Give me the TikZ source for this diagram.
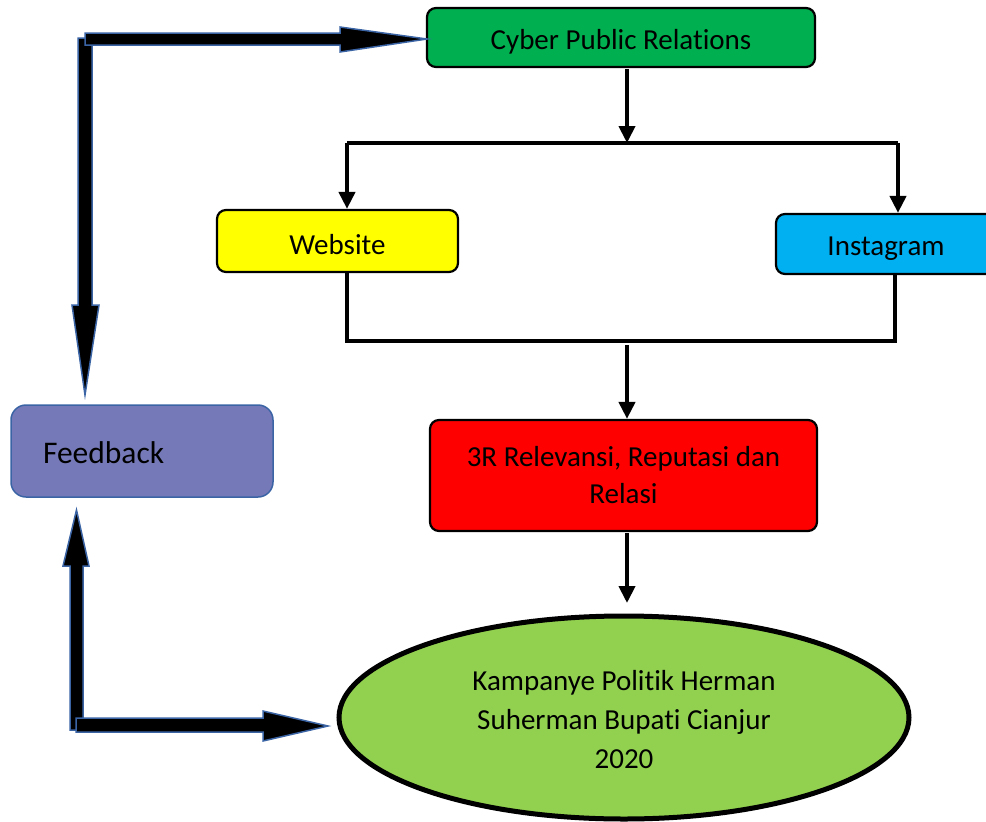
\documentclass[tikz,border=0pt]{standalone}
\usepackage{fontspec}
\setmainfont{Carlito}[Ligatures=NoCommon]
\usetikzlibrary{arrows.meta,shapes.geometric}
\definecolor{cgreen}{HTML}{00B050}
\definecolor{cyellow}{HTML}{FFFF00}
\definecolor{cblue}{HTML}{00B0F0}
\definecolor{cred}{HTML}{FF0000}
\definecolor{clime}{HTML}{92D050}
\definecolor{cpurple}{HTML}{7579B8}
\definecolor{cedge}{HTML}{3B64A5}
\newcommand\lowr[2]{\raisebox{-#1}[\height][\depth]{#2}}
\tikzset{
  txt/.style={font=\fontsize{29}{37}\selectfont},
  boxnode/.style={txt, draw=black, line width=2.2pt, rounded corners=9pt, inner sep=0pt, align=center},
  conn/.style={draw=black, line width=4pt, line join=miter},
  connarrow/.style={conn, -{Triangle[length=17pt,width=16pt]}},
  blockarrow/.style={fill=black, draw=cedge, line width=1.5pt, line join=miter}
}
\begin{document}
\begin{tikzpicture}[x=1pt,y=-1pt]
\useasboundingbox (0,0) rectangle (986,822);
\clip (0,0) rectangle (986,822);

% nodes
\node[boxnode, fill=cgreen, minimum width=388pt, minimum height=59pt] (cpr) at (621,37.5) {\lowr{4.5pt}{Cyber Public Relations}};
\node[boxnode, fill=cyellow, minimum width=241pt, minimum height=62pt] (web) at (337.5,241) {\lowr{4pt}{Website}};
\node[boxnode, fill=cblue, minimum width=220pt, minimum height=60pt] (ig) at (886,244) {\lowr{5pt}{Instagram}};
\node[boxnode, fill=cred, minimum width=387pt, minimum height=111pt] (rel) at (623.5,475.5) {\lowr{2.5pt}{\begin{tabular}{@{}c@{}}3R Relevansi, Reputasi dan\\Relasi\end{tabular}}};
\node[ellipse, draw=black, line width=5pt, fill=clime, minimum width=570pt, minimum height=203pt, inner sep=0pt, font=\fontsize{29}{39}\selectfont] (camp) at (624,717.5) {\lowr{4.5pt}{\begin{tabular}{@{}c@{}}Kampanye Politik Herman\\Suherman Bupati Cianjur\\2020\end{tabular}}};
\node[draw=cedge, line width=1.5pt, fill=cpurple, rounded corners=15pt, minimum width=262pt, minimum height=92pt, text width=198pt, inner xsep=32pt, inner ysep=0pt, align=left, font=\fontsize{31.5}{38}\selectfont] (fb) at (142,451) {\lowr{2pt}{Feedback}};

% connector coordinates
\coordinate (cprOut) at (627,69);
\coordinate (busTop) at (627,143);
\coordinate (busTL) at (347,143);
\coordinate (busTR) at (898,143);
\coordinate (busBL) at (347,341);
\coordinate (busBR) at (895,341);
\coordinate (busMid) at (627,345);
\coordinate (relOut) at (627,533);
\coordinate (campIn) at (627,603);

% connectors
\draw[connarrow] (cprOut) -- (busTop);
\draw[conn] (busTL) -- (busTR);
\draw[connarrow] (busTL) -- (busTL |- web.north);
\draw[connarrow] (busTR) -- (busTR |- ig.north);
\draw[conn] (busBL |- web.south) -- (busBL) -- (busBR) -- (busBR |- ig.south);
\draw[connarrow] (busMid) -- (busMid |- rel.north);
\draw[connarrow] (relOut) -- (campIn);

% block arrows (feedback loop)
\draw[blockarrow] (78,38) -- (92,38) -- (92,305) -- (99,305) -- (85,395) -- (72,305) -- (78,305) -- cycle;
\draw[blockarrow] (85,33) -- (340,33) -- (340,27) -- (427,39) -- (340,52) -- (340,45) -- (85,45) -- cycle;
\draw[blockarrow] (70,730) -- (83,730) -- (83,566) -- (89,566) -- (76.5,510) -- (63,566) -- (70,566) -- cycle;
\draw[blockarrow] (76,718) -- (263,718) -- (263,711) -- (328,726) -- (263,741) -- (263,732) -- (76,732) -- cycle;
\end{tikzpicture}
\end{document}
